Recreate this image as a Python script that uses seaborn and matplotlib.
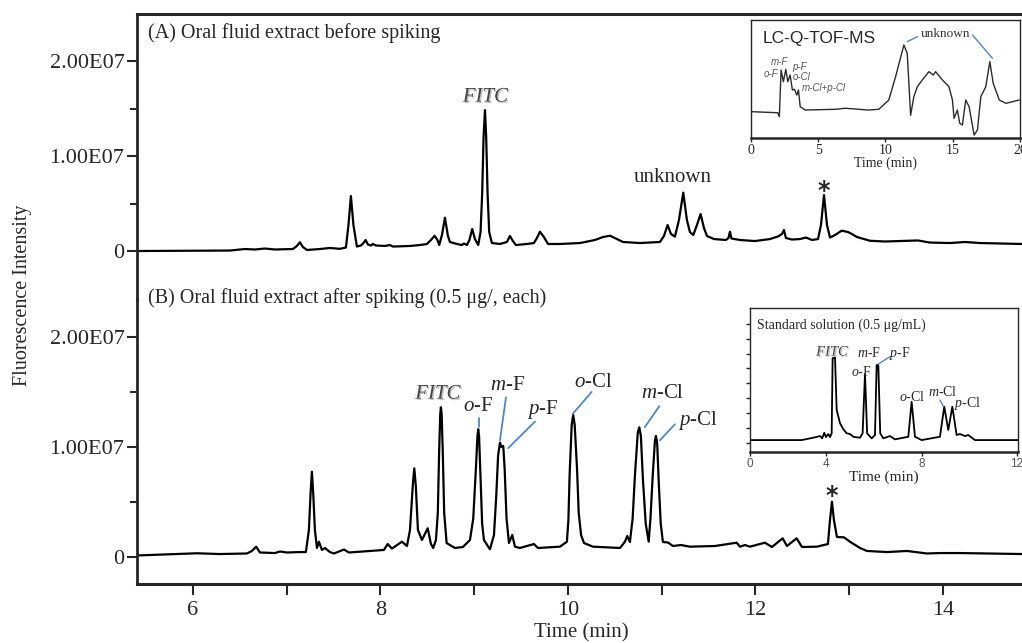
import numpy as np
import pandas as pd
import matplotlib
matplotlib.use("Agg")
import matplotlib.pyplot as plt
import matplotlib.patheffects as pe
import seaborn as sns

# ---- donnees : (temps en min, intensite en 1E06) ----
trace_a = [(5.403, 0.00), (6.395, 0.05), (6.555, 0.21), (6.661, 0.16), (6.768, 0.26), (6.875, 0.16),
           (7.067, 0.21), (7.109, 0.53), (7.141, 0.92), (7.173, 0.42), (7.216, 0.11), (7.355, 0.21),
           (7.461, 0.32), (7.568, 0.23), (7.632, 0.37), (7.659, 2.74), (7.685, 5.79), (7.712, 2.74),
           (7.749, 0.47), (7.792, 0.58), (7.819, 0.84), (7.842, 1.16), (7.867, 0.68), (7.899, 0.58),
           (7.920, 0.74), (7.952, 0.58), (8.048, 0.53), (8.101, 0.63), (8.133, 0.47), (8.315, 0.53),
           (8.421, 0.63), (8.496, 0.74), (8.539, 1.16), (8.578, 1.61), (8.608, 1.16), (8.627, 0.63),
           (8.656, 1.68), (8.688, 3.51), (8.720, 1.58), (8.741, 0.95), (8.816, 0.74), (8.869, 0.63),
           (8.891, 0.79), (8.923, 0.63), (8.949, 1.16), (8.979, 2.32), (9.008, 1.26), (9.043, 0.63),
           (9.068, 2.00), (9.085, 6.00), (9.100, 12.00), (9.115, 14.84), (9.128, 12.00), (9.143, 6.00),
           (9.160, 2.00), (9.189, 0.84), (9.275, 0.74), (9.349, 0.95), (9.381, 1.58), (9.413, 1.05),
           (9.445, 0.63), (9.563, 0.74), (9.637, 0.84), (9.669, 1.37), (9.701, 2.03), (9.744, 1.47),
           (9.787, 0.74), (9.915, 0.74), (10.128, 0.84), (10.288, 1.16), (10.373, 1.47), (10.448, 1.61),
           (10.523, 1.26), (10.587, 0.95), (10.768, 0.84), (10.981, 0.95), (11.024, 1.58), (11.063, 2.74),
           (11.099, 1.79), (11.141, 1.51), (11.184, 3.26), (11.230, 6.14), (11.269, 3.26), (11.301, 2.00),
           (11.337, 1.68), (11.376, 2.74), (11.415, 3.89), (11.451, 2.42), (11.483, 1.58), (11.557, 1.26),
           (11.685, 1.16), (11.712, 1.37), (11.728, 2.03), (11.744, 1.32), (11.835, 1.16), (11.995, 1.05),
           (12.155, 1.26), (12.240, 1.53), (12.283, 1.79), (12.304, 2.21), (12.325, 1.37), (12.389, 1.21),
           (12.475, 1.26), (12.539, 1.42), (12.603, 1.16), (12.667, 1.26), (12.699, 2.74), (12.731, 5.89),
           (12.763, 2.74), (12.795, 1.42), (12.848, 1.68), (12.920, 2.14), (12.987, 2.00), (13.029, 1.79),
           (13.083, 1.47), (13.221, 1.08), (13.381, 1.00), (13.733, 1.11), (13.861, 0.89), (14.075, 0.84),
           (14.235, 0.95), (14.395, 0.84), (14.843, 0.74)]

trace_b = [(5.403, 0.14), (6.043, 0.34), (6.288, 0.27), (6.576, 0.32), (6.629, 0.55), (6.675, 0.94),
           (6.715, 0.41), (6.875, 0.36), (6.928, 0.50), (7.003, 0.41), (7.141, 0.45), (7.205, 0.45),
           (7.237, 2.45), (7.255, 5.80), (7.269, 7.75), (7.283, 5.80), (7.301, 2.45), (7.323, 0.82),
           (7.344, 1.39), (7.376, 0.64), (7.408, 0.82), (7.461, 0.45), (7.504, 0.32), (7.611, 0.68),
           (7.664, 0.41), (7.888, 0.55), (8.037, 0.64), (8.077, 1.18), (8.123, 0.77), (8.229, 1.39),
           (8.283, 1.00), (8.315, 2.45), (8.345, 6.50), (8.361, 8.06), (8.377, 6.50), (8.400, 2.45),
           (8.443, 1.55), (8.504, 2.61), (8.539, 1.18), (8.563, 0.82), (8.592, 1.55), (8.612, 4.00),
           (8.626, 9.50), (8.638, 13.00), (8.645, 13.61), (8.653, 13.00), (8.665, 9.50), (8.680, 4.00),
           (8.706, 1.27), (8.795, 0.82), (8.880, 0.91), (8.955, 1.55), (8.990, 3.50), (9.015, 7.50),
           (9.035, 11.00), (9.043, 11.61), (9.052, 11.00), (9.070, 6.50), (9.085, 3.00), (9.104, 1.55),
           (9.168, 0.70), (9.211, 2.00), (9.235, 5.50), (9.255, 9.20), (9.275, 10.39), (9.290, 10.00),
           (9.310, 10.09), (9.325, 8.00), (9.345, 3.50), (9.371, 1.27), (9.406, 2.00), (9.435, 0.94),
           (9.488, 0.82), (9.637, 1.18), (9.680, 0.82), (9.915, 0.94), (9.989, 1.39), (10.005, 3.40),
           (10.018, 7.50), (10.040, 12.00), (10.056, 12.91), (10.072, 12.00), (10.097, 8.00),
           (10.115, 4.00), (10.140, 2.00), (10.171, 1.27), (10.267, 0.94), (10.555, 0.82), (10.608, 1.39),
           (10.633, 1.91), (10.661, 1.36), (10.690, 3.50), (10.715, 7.50), (10.745, 11.30), (10.761, 11.79),
           (10.778, 11.00), (10.800, 7.00), (10.830, 3.00), (10.861, 1.39), (10.880, 3.50), (10.905, 7.50),
           (10.928, 10.60), (10.939, 11.00), (10.952, 10.30), (10.970, 6.50), (10.990, 3.00), (11.013, 1.36),
           (11.067, 1.32), (11.120, 1.00), (11.205, 1.09), (11.301, 0.94), (11.568, 1.00), (11.799, 1.30),
           (11.835, 0.94), (11.888, 1.09), (11.941, 0.94), (12.101, 1.30), (12.176, 0.91), (12.290, 1.70),
           (12.336, 1.00), (12.439, 1.70), (12.496, 0.91), (12.656, 0.94), (12.773, 1.18), (12.795, 3.36),
           (12.816, 5.03), (12.837, 3.36), (12.869, 1.82), (12.944, 1.79), (13.008, 1.39), (13.115, 0.82),
           (13.189, 0.55), (13.403, 0.45), (13.616, 0.55), (13.829, 0.32), (13.968, 0.36), (14.181, 0.36),
           (14.843, 0.27)]

# encart LC-Q-TOF-MS (intensite relative)
ms_time = [0.05, 1.99, 2.11, 2.24, 2.41, 2.59, 2.74, 2.91, 3.08, 3.23, 3.41, 3.53, 3.66, 4.03, 6.27, 7.01,
           8.73, 9.50, 10.25, 10.75, 11.37, 11.62, 11.87, 12.11, 12.37, 12.74, 13.23, 13.56, 13.73, 14.23,
           14.72, 14.98, 15.10, 15.35, 15.52, 15.72, 15.97, 16.22, 16.59, 16.84, 17.09, 17.46, 17.76, 18.01,
           18.46, 18.96, 19.95]
ms_int = [22.3, 21.4, 18.1, 57.6, 47.7, 58.2, 47.7, 53.4, 40.7, 41.3, 36.4, 40.7, 26.5, 23.7, 24.3, 25.2,
          23.7, 24.3, 32.2, 51.9, 78.8, 71.8, 19.2, 35.0, 43.5, 49.2, 56.2, 53.4, 56.2, 49.2,
          43.5, 32.2, 16.7, 23.7, 12.5, 11.0, 32.2, 26.5, 2.5, 6.8, 35.0, 43.5, 64.7, 46.4,
          32.2, 29.4, 32.2]

# encart solution standard (intensite relative)
std_time = [0.79, 2.96, 3.52, 3.73, 3.82, 3.91, 3.98, 4.08, 4.15, 4.22, 4.26, 4.36, 4.43, 4.57, 4.71, 4.85,
            4.99, 5.13, 5.41, 5.52, 5.62, 5.71, 5.90, 6.04, 6.11, 6.18, 6.26, 6.39, 6.67, 6.88, 7.44, 7.58,
            7.72, 8.00, 8.77, 8.95, 9.12, 9.29, 9.47, 9.61, 9.82, 9.96, 10.24, 12.05]
std_int = [8.3, 8.3, 10.2, 11.1, 9.5, 13.4, 10.4, 12.5, 10.4, 13.0, 65.1, 65.8, 29.2, 20.0, 15.8, 13.0,
           12.5, 10.6, 9.9, 13.0, 54.2, 13.0, 9.5, 11.8, 60.4, 60.4, 13.0, 9.5, 11.1, 8.8, 10.6, 34.9,
           10.6, 8.3, 10.6, 31.5, 15.3, 31.5, 11.8, 12.5, 11.1, 11.8, 8.3, 8.3]

main_xticks = [6, 8, 10, 12, 14]
y_labels = ["0", "1.00E07", "2.00E07"]

# ---- style ----
sns.set_theme(style="ticks")
plt.rcParams["font.family"] = ["Liberation Serif", "DejaVu Serif"]
plt.rcParams["mathtext.fontset"] = "custom"
plt.rcParams["mathtext.it"] = "Liberation Serif:italic"
plt.rcParams["mathtext.rm"] = "Liberation Serif"
blue = "#4f86c6"

fig = plt.figure(figsize=(10.22, 6.43), dpi=100)
ax_a = fig.add_axes([0.134, 0.5334, 0.866, 0.4448])
ax_b = fig.add_axes([0.134, 0.0918, 0.866, 0.4417], sharex=ax_a)

df_a = pd.DataFrame(trace_a, columns=["temps", "intensite"])
df_b = pd.DataFrame(trace_b, columns=["temps", "intensite"])
df_a["intensite"] *= 1e6
df_b["intensite"] *= 1e6
sns.lineplot(data=df_a, x="temps", y="intensite", ax=ax_a, color="black", lw=1.6,
             estimator=None, sort=False)
sns.lineplot(data=df_b, x="temps", y="intensite", ax=ax_b, color="black", lw=1.6,
             estimator=None, sort=False)

ax_a.set_ylim(-5.16e6, 24.95e6)
ax_b.set_ylim(-2.45e6, 23.36e6)
ax_b.set_xlim(5.403, 14.843)

for ax in (ax_a, ax_b):
    ax.patch.set_alpha(0)
    ax.set_xlabel("")
    ax.set_ylabel("")
    ax.set_yticks([0, 1e7, 2e7])
    ax.set_yticklabels(y_labels)
    ax.set_yticks([5e6, 1.5e7], minor=True)
    ax.spines["right"].set_visible(False)
    ax.spines["left"].set_linewidth(2)
    ax.tick_params(axis="y", which="major", length=7, width=1.5, pad=2, labelsize=16)
    ax.tick_params(axis="y", which="minor", length=5, width=1.5)

ax_a.spines["bottom"].set_visible(False)
ax_a.spines["top"].set_linewidth(2.2)
ax_a.tick_params(axis="x", which="both", bottom=False, labelbottom=False)
ax_b.spines["top"].set_visible(False)
ax_b.spines["bottom"].set_linewidth(2.2)
ax_b.set_xticks(main_xticks)
ax_b.set_xticks([7, 9, 11, 13], minor=True)
ax_b.tick_params(axis="x", which="both", length=8, width=1.5, pad=4, labelsize=16)

fig.text(0.022, 1 - 295 / 643, "Fluorescence Intensity", rotation=90, ha="center", va="center", fontsize=14.5)
fig.text(0.5685, 1 - 633 / 643, "Time (min)", ha="center", va="center", fontsize=15)

# ---- annotations (A) ----
ax_a.text(5.52, 22.39e6, "(A) Oral fluid extract before spiking", ha="left", va="baseline", fontsize=14.5)
shadow = [pe.withSimplePatchShadow(offset=(1, -1), shadow_rgbFace="#c4c4c4", alpha=1)]
ax_a.text(9.12, 16.2e6, "FITC", style="italic", color="#444444", ha="center", va="center",
          fontsize=15, path_effects=shadow)
ax_a.text(11.12, 7.7e6, "unknown", ha="center", va="center", fontsize=15)
ax_a.text(12.73, 5.6e6, "*", ha="center", va="baseline", fontsize=17, fontweight="bold",
          family="DejaVu Sans")

# ---- annotations (B) ----
ax_b.text(5.52, 23.1e6, "(B) Oral fluid extract after spiking (0.5 μg/, each)", ha="left",
          va="baseline", fontsize=14.5)
ax_b.text(8.613, 14.8e6, "FITC", style="italic", color="#444444", ha="center", va="center",
          fontsize=15, path_effects=shadow)
labels_b = [(r"$\mathit{o}$-F", 9.04, 13.66, (9.05, 12.6), (9.05, 11.8)),
            (r"$\mathit{m}$-F", 9.35, 15.6, (9.339, 14.5), (9.275, 10.6)),
            (r"$\mathit{p}$-F", 9.733, 13.4, (9.648, 12.3), (9.363, 9.9)),
            (r"$\mathit{o}$-Cl", 10.267, 15.9, (10.253, 15.0), (10.05, 13.0)),
            (r"$\mathit{m}$-Cl", 11.013, 14.9, (10.974, 13.7), (10.82, 11.8)),
            (r"$\mathit{p}$-Cl", 11.387, 12.4, (11.141, 12.06), (10.98, 10.6))]
for txt, tx, ty, p1, p2 in labels_b:
    ax_b.text(tx, ty * 1e6, txt, ha="center", va="center", fontsize=15)
    ax_b.plot([p1[0], p2[0]], [p1[1] * 1e6, p2[1] * 1e6], color=blue, lw=1.3)
ax_b.text(12.816, 4.9e6, "*", ha="center", va="baseline", fontsize=17, fontweight="bold",
          family="DejaVu Sans")

# ---- encart 1 : LC-Q-TOF-MS ----
ins1 = fig.add_axes([0.7348, 0.7854, 0.2632, 0.1835])
sns.lineplot(x=ms_time, y=ms_int, ax=ins1, color="#2b2b2b", lw=1.0, estimator=None, sort=False)
ins1.set_xlim(0, 20)
ins1.set_ylim(0, 100)
ins1.set_yticks([])
ins1.set_xticks([0, 5, 10, 15, 20])
ins1.tick_params(axis="x", length=3, width=1, pad=1, labelsize=10)
for s in ins1.spines.values():
    s.set_linewidth(1)
ins1.spines["bottom"].set_linewidth(1.8)
ins1.set_xlabel("Time (min)", fontsize=10, labelpad=0)
ins1.set_ylabel("")
ins1.text(0.9, 83.9, "LC-Q-TOF-MS", family="Liberation Sans", fontsize=12.5, ha="left", va="center")
small = dict(family="Liberation Sans", fontsize=7, color="#555555", style="italic", va="center")
ins1.text(2.16, 64.4, "m-F", ha="center", **small)
ins1.text(3.58, 60.2, "p-F", ha="center", **small)
ins1.text(1.49, 54.2, "o-F", ha="center", **small)
ins1.text(3.73, 51.7, "o-Cl", ha="center", **small)
ins1.text(3.8, 42.4, "m-Cl+p-Cl", ha="left", **small)
ins1.text(14.48, 88.1, "unknown", ha="center", va="center", fontsize=9.5, color="#333333")
ins1.plot([11.62, 12.37], [81.6, 85.9], color=blue, lw=1)
ins1.plot([16.47, 17.96], [87.3, 67.5], color=blue, lw=1)

# ---- encart 2 : solution standard ----
ins2 = fig.add_axes([0.7339, 0.2970, 0.2622, 0.2240])
sns.lineplot(x=std_time, y=std_int, ax=ins2, color="black", lw=1.3, estimator=None, sort=False)
ins2.set_xlim(0.79, 12.05)
ins2.set_ylim(0, 100)
ins2.set_xticks([0.79, 4, 8, 12])
ins2.set_xticklabels(["0", "4", "8", "12"], family="Liberation Sans", color="#555555")
ins2.set_yticks(np.arange(6.0, 95, 10.4))
ins2.set_yticklabels([])
ins2.tick_params(axis="x", length=3, width=1, pad=1, labelsize=8.5)
ins2.tick_params(axis="y", length=3, width=1)
for s in ins2.spines.values():
    s.set_linewidth(1)
ins2.spines["bottom"].set_linewidth(1.8)
ins2.set_xlabel("Time (min)", fontsize=11, labelpad=1)
ins2.set_ylabel("")
ins2.text(1.07, 88.2, "Standard solution (0.5 μg/mL)", ha="left", va="center", fontsize=10)
ins2.text(4.23, 69.4, "FITC", style="italic", color="#444444", ha="center", va="center", fontsize=10.5,
          path_effects=shadow)
std_labels = [(r"$\mathit{o}$-F", 5.45, 55.8), (r"$\mathit{m}$-F", 5.77, 68.5), (r"$\mathit{p}$-F", 7.09, 68.5),
              (r"$\mathit{o}$-Cl", 7.62, 38.4), (r"$\mathit{m}$-Cl", 8.88, 41.5), (r"$\mathit{p}$-Cl", 9.95, 33.8)]
for txt, tx, ty in std_labels:
    ins2.text(tx, ty, txt, ha="center", va="center", fontsize=10)
ins2.plot([6.67, 6.18], [66.2, 61.1], color=blue, lw=1)
ins2.plot([8.77, 8.91], [36.1, 31.9], color=blue, lw=1)

fig.savefig("out.png", dpi=100)
